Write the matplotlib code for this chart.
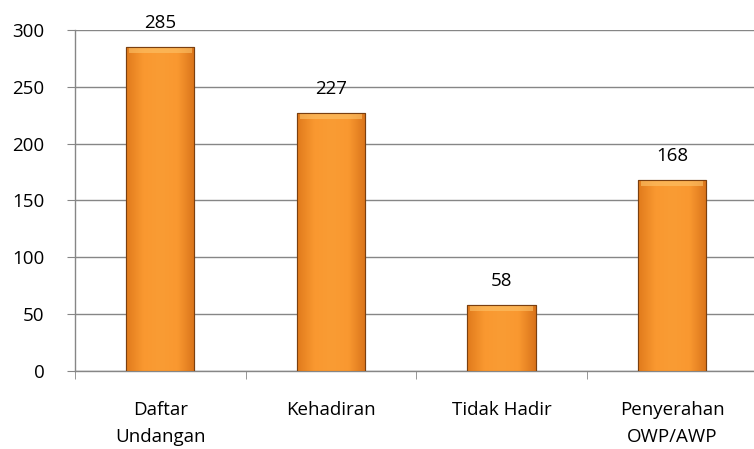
import numpy as np
import matplotlib.pyplot as plt
from matplotlib.colors import LinearSegmentedColormap

categories = ["Daftar\nUndangan", "Kehadiran", "Tidak Hadir", "Penyerahan\nOWP/AWP"]
values = [285, 227, 58, 168]
y_ticks = [0, 50, 100, 150, 200, 250, 300]

plt.rcParams['font.family'] = ['Open Sans', 'DejaVu Sans']

fig = plt.figure(figsize=(7.54, 4.49), dpi=100)
ax = fig.add_axes([0.0995, 0.174, 0.905, 0.759])

x = np.arange(len(categories))
bars = ax.bar(x, values, width=0.4, color='#F7942C', edgecolor='#8B4A13', linewidth=0.8, zorder=3)

# horizontal shading inside each bar to mimic the bevel look
cmap = LinearSegmentedColormap.from_list('bev', ['#E07A1C', '#F99830', '#FA9C34', '#F99830', '#D9731A'])
grad = np.linspace(0, 1, 256).reshape(1, -1)
for b in bars:
    x0, w, h = b.get_x(), b.get_width(), b.get_height()
    im = ax.imshow(grad, extent=[x0, x0 + w, 0, h], aspect='auto', cmap=cmap, zorder=3.5)
    im.set_clip_path(b)
    # light band at the top edge
    ax.fill_between([x0 + w * 0.04, x0 + w * 0.96], h - 300 * 0.018, h - 300 * 0.004,
                    color='#FDC46A', alpha=0.6, zorder=3.6, linewidth=0)
    ax.add_patch(plt.Rectangle((x0, 0), w, h, fill=False, edgecolor='#7A3F10', linewidth=0.8, zorder=4))
    ax.annotate(f"{int(h)}", (x0 + w / 2, h), xytext=(0, 11), textcoords='offset points',
                ha='center', va='bottom', fontsize=13.5, color='black')

ax.set_xlim(-0.5, len(categories) - 0.5)
ax.set_ylim(0, 300)
ax.set_yticks(y_ticks)
ax.set_yticklabels([str(t) for t in y_ticks], fontsize=13.5)
ax.set_xticks(x)
ax.set_xticklabels(categories, fontsize=13.5, linespacing=1.6)
ax.tick_params(axis='x', length=0, pad=22)
ax.set_xticks(np.arange(len(categories) + 1) - 0.5, minor=True)
ax.tick_params(axis='x', which='minor', length=6, color='#868686', direction='out')
ax.tick_params(axis='y', length=6, color='#868686', direction='out', pad=16)

ax.grid(axis='y', color='#868686', linewidth=1, zorder=0)
ax.set_axisbelow(True)
for s in ['top', 'right']:
    ax.spines[s].set_visible(False)
for s in ['left', 'bottom']:
    ax.spines[s].set_color('#868686')
    ax.spines[s].set_linewidth(1)

fig.savefig('out.png', dpi=100)
